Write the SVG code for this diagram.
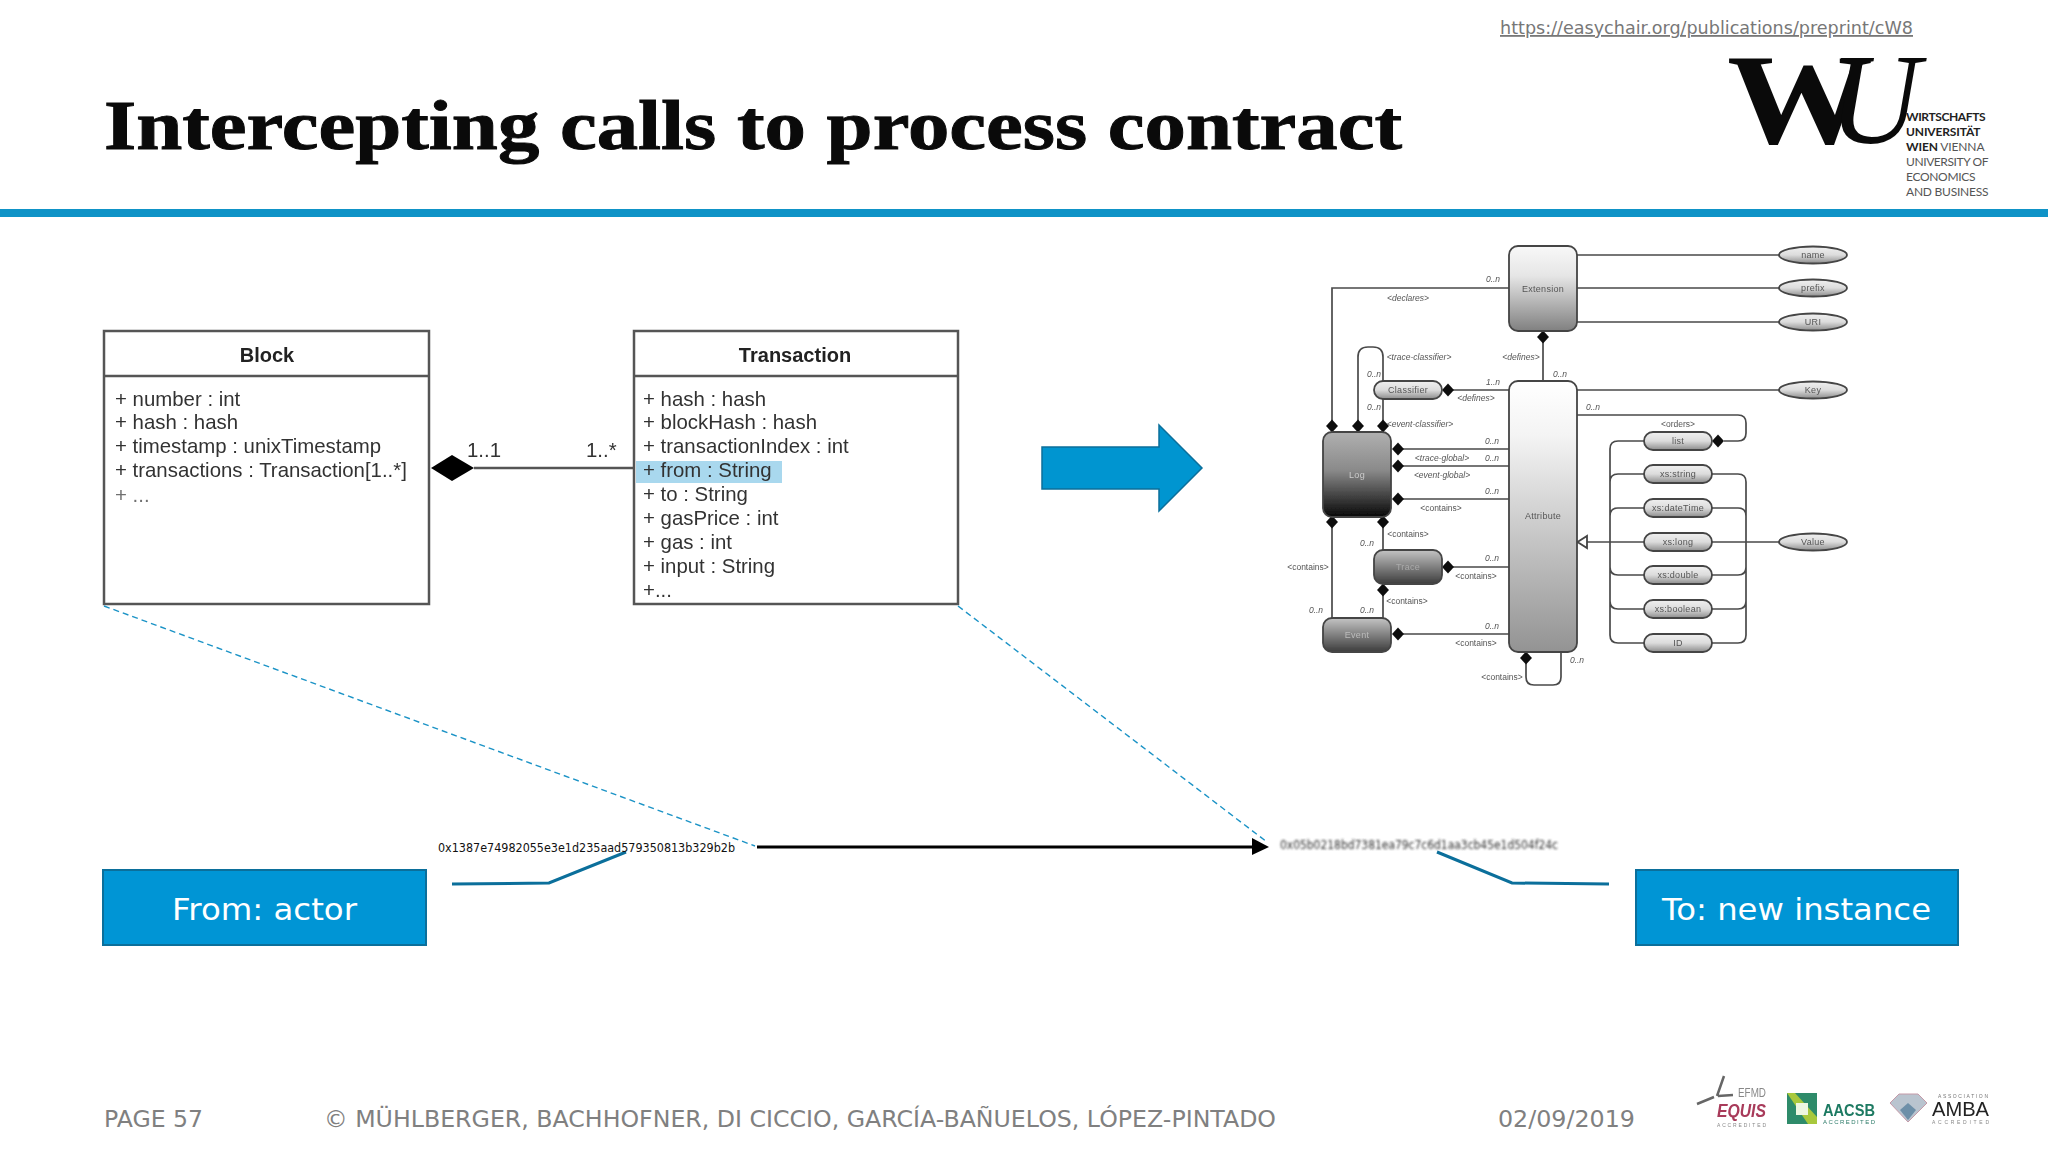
<svg xmlns="http://www.w3.org/2000/svg" width="2048" height="1152" viewBox="0 0 2048 1152">
<style>
.ui{font-family:"Liberation Sans",Arial,sans-serif;font-size:20.4px;fill:#333}
.ub{font-family:"Liberation Sans",Arial,sans-serif;font-size:20px;font-weight:bold;fill:#222;text-anchor:middle}
.ubox{fill:#fff;stroke:#555;stroke-width:2.5}
.ulin{fill:none;stroke:#555;stroke-width:2.5}
.v{font-family:"DejaVu Sans",Verdana,sans-serif}
.foot{font-family:"DejaVu Sans",Verdana,sans-serif;font-size:23px;fill:#808080}
.cb{fill:#0095d5;stroke:#0b6f9b;stroke-width:2}
.cbt{font-family:"DejaVu Sans",Verdana,sans-serif;font-size:30px;fill:#fff}
.call{fill:none;stroke:#0b6f9b;stroke-width:3}
.dash{fill:none;stroke:#1b93c6;stroke-width:1.4;stroke-dasharray:6 4}
.n{stroke:#444;stroke-width:1.8}
.l{fill:none;stroke:#4a4a4a;stroke-width:1.7}
.t{font-family:"Liberation Sans",Arial,sans-serif;font-size:8.5px;fill:#555;text-anchor:middle}
.i{font-style:italic}
.nt{font-family:"Liberation Sans",Arial,sans-serif;font-size:9px;letter-spacing:.3px;fill:#555;text-anchor:middle}
.lg{font-family:"Lato","Liberation Sans",sans-serif;font-size:12px;fill:#555;letter-spacing:.5px}
.lgb{font-weight:bold;fill:#222}
</style>
<defs>
<linearGradient id="gExt" x1="0" y1="0" x2="0" y2="1"><stop offset="0" stop-color="#f8f8f8"/><stop offset=".35" stop-color="#e6e6e6"/><stop offset="1" stop-color="#808080"/></linearGradient>
<linearGradient id="gAttr" x1="0" y1="0" x2="0" y2="1"><stop offset="0" stop-color="#ffffff"/><stop offset=".2" stop-color="#f4f4f4"/><stop offset="1" stop-color="#939393"/></linearGradient>
<linearGradient id="gDark" x1="0" y1="0" x2="0" y2="1"><stop offset="0" stop-color="#b0b0b0"/><stop offset=".45" stop-color="#8a8a8a"/><stop offset="1" stop-color="#080808"/></linearGradient>
<linearGradient id="gMid" x1="0" y1="0" x2="0" y2="1"><stop offset="0" stop-color="#c4c4c4"/><stop offset="1" stop-color="#3c3c3c"/></linearGradient>
<linearGradient id="gPill" x1="0" y1="0" x2="0" y2="1"><stop offset="0" stop-color="#f0f0f0"/><stop offset=".5" stop-color="#dcdcdc"/><stop offset="1" stop-color="#8c8c8c"/></linearGradient>
<filter id="b1" x="-5%" y="-5%" width="110%" height="110%"><feGaussianBlur stdDeviation="0.55"/></filter>
<filter id="b3" x="-5%" y="-5%" width="110%" height="110%"><feGaussianBlur stdDeviation="0.7"/></filter>
<filter id="b2" x="-5%" y="-20%" width="110%" height="140%"><feGaussianBlur stdDeviation="0.9"/></filter>
<path id="dia" d="M-6 0L0-6.500 6 0 0 6.500Z" fill="#111"/>
</defs>
<rect width="2048" height="1152" fill="#fff"/>

<g id="header">
<text x="104" y="149" font-family="'Liberation Serif','Times New Roman',serif" font-weight="bold" font-size="70" fill="#0a0a0a" stroke="#0a0a0a" stroke-width="0.9" textLength="1298" lengthAdjust="spacingAndGlyphs">Intercepting calls to process contract</text>
<text x="1500" y="34" class="v" font-size="18" fill="#777" text-decoration="underline" textLength="413" lengthAdjust="spacingAndGlyphs">https://easychair.org/publications/preprint/cW8</text>
<rect x="0" y="209" width="2048" height="8" fill="#0f93c7"/>
</g>

<g id="wu-logo">
<text x="1727" y="143" font-family="'Liberation Serif',serif" font-weight="bold" font-size="130" fill="#0a0a0a" textLength="146" lengthAdjust="spacingAndGlyphs">W</text>
<text x="1829" y="143" font-family="'Liberation Serif',serif" font-style="italic" font-size="130" fill="#0a0a0a" textLength="91" lengthAdjust="spacingAndGlyphs">U</text>
<text class="lg lgb" x="1906" y="121" textLength="80">WIRTSCHAFTS</text>
<text class="lg lgb" x="1906" y="136" textLength="75">UNIVERSITÄT</text>
<text class="lg" x="1906" y="151" textLength="79"><tspan class="lgb">WIEN</tspan> VIENNA</text>
<text class="lg" x="1906" y="166" textLength="83">UNIVERSITY OF</text>
<text class="lg" x="1906" y="181" textLength="70">ECONOMICS</text>
<text class="lg" x="1906" y="196" textLength="83">AND BUSINESS</text>
</g>

<g id="uml-connectors" filter="url(#b1)">
<path class="ulin" d="M474 468H634"/>
<path d="M431 468L452 455 474 468 452 481Z" fill="#000"/>
<text class="ui" x="467" y="457">1..1</text>
<text class="ui" x="586" y="457">1..*</text>
</g>

<g id="block" filter="url(#b1)">
<rect class="ubox" x="104" y="331" width="325" height="273"/>
<path class="ulin" d="M104 376H429"/>
<text class="ub" x="267" y="362">Block</text>
<text class="ui" x="115" y="406">+ number : int</text>
<text class="ui" x="115" y="429">+ hash : hash</text>
<text class="ui" x="115" y="453">+ timestamp : unixTimestamp</text>
<text class="ui" x="115" y="477">+ transactions : Transaction[1..*]</text>
<text class="ui" x="115" y="502" fill-opacity=".7">+ ...</text>
</g>

<g id="transaction" filter="url(#b1)">
<rect class="ubox" x="634" y="331" width="324" height="273"/>
<path class="ulin" d="M634 376H958"/>
<rect x="636" y="461" width="146" height="22" fill="#a9d8ee"/>
<text class="ub" x="795" y="362">Transaction</text>
<text class="ui" x="643" y="406">+ hash : hash</text>
<text class="ui" x="643" y="429">+ blockHash : hash</text>
<text class="ui" x="643" y="453">+ transactionIndex : int</text>
<text class="ui" x="643" y="477">+ from : String</text>
<text class="ui" x="643" y="501">+ to : String</text>
<text class="ui" x="643" y="525">+ gasPrice : int</text>
<text class="ui" x="643" y="549">+ gas : int</text>
<text class="ui" x="643" y="573">+ input : String</text>
<text class="ui" x="643" y="597">+...</text>
</g>

<g id="big-arrow">
<path d="M1042 447H1159V425L1202 468 1159 511V489H1042Z" fill="#0095d0" stroke="#0b6f9b" stroke-width="1.500"/>
</g>

<g id="xes-connectors" filter="url(#b3)">
<path class="l" d="M1577 255H1779M1577 288H1779M1577 322H1779M1577 390H1779M1712 542H1779"/>
<path class="l" d="M1509 288H1332V432"/>
<path class="l" d="M1358 432V357Q1358 347 1368 347H1373Q1383 347 1383 357V381M1383 399V432"/>
<path class="l" d="M1448 390H1509M1398 449H1509M1398 466H1509M1398 499H1509M1448 567H1509M1398 634H1509"/>
<path class="l" d="M1543 331V381"/>
<path class="l" d="M1332 517V618M1383 517V550M1383 584V618"/>
<path class="l" d="M1526 652V677Q1526 685 1534 685H1553Q1561 685 1561 677V652"/>
<path class="l" d="M1577 415H1738Q1746 415 1746 423V433Q1746 441 1738 441H1724"/>
<path class="l" d="M1644 441H1618Q1610 441 1610 449V635Q1610 643 1618 643H1644M1644 474H1618Q1610 474 1610 482M1644 508H1618Q1610 508 1610 516M1644 575H1618Q1610 575 1610 567M1644 609H1618Q1610 609 1610 601"/>
<path class="l" d="M1712 474H1738Q1746 474 1746 482V635Q1746 643 1738 643H1712M1712 508H1738Q1746 508 1746 516M1712 575H1738Q1746 575 1746 567M1712 609H1738Q1746 609 1746 601"/>
<path class="l" d="M1586 542H1644"/>
<path d="M1577.500 542L1587 536V548Z" fill="#fff" stroke="#444" stroke-width="1.800"/>
<use href="#dia" x="1332" y="426"/><use href="#dia" x="1358" y="426"/><use href="#dia" x="1383" y="426"/>
<use href="#dia" x="1543" y="337"/><use href="#dia" x="1448" y="390"/>
<use href="#dia" x="1398" y="449"/><use href="#dia" x="1398" y="466"/><use href="#dia" x="1398" y="499"/>
<use href="#dia" x="1332" y="522"/><use href="#dia" x="1383" y="522"/><use href="#dia" x="1383" y="590"/>
<use href="#dia" x="1448" y="567"/><use href="#dia" x="1398" y="634"/>
<use href="#dia" x="1526" y="658"/><use href="#dia" x="1718" y="441"/>
<text class="t i" x="1493" y="282">0..n</text>
<text class="t i" x="1408" y="301">&lt;declares&gt;</text>
<text class="t i" x="1521" y="360">&lt;defines&gt;</text>
<text class="t i" x="1419" y="360">&lt;trace-classifier&gt;</text>
<text class="t i" x="1374" y="377">0..n</text>
<text class="t i" x="1560" y="377">0..n</text>
<text class="t i" x="1493" y="385">1..n</text>
<text class="t i" x="1476" y="401">&lt;defines&gt;</text>
<text class="t i" x="1374" y="410">0..n</text>
<text class="t i" x="1593" y="410">0..n</text>
<text class="t i" x="1420" y="427">&lt;event-classifier&gt;</text>
<text class="t" x="1678" y="427">&lt;orders&gt;</text>
<text class="t i" x="1492" y="444">0..n</text>
<text class="t i" x="1442" y="461">&lt;trace-global&gt;</text>
<text class="t i" x="1492" y="461">0..n</text>
<text class="t i" x="1442" y="478">&lt;event-global&gt;</text>
<text class="t i" x="1492" y="494">0..n</text>
<text class="t" x="1441" y="511">&lt;contains&gt;</text>
<text class="t" x="1408" y="537">&lt;contains&gt;</text>
<text class="t i" x="1367" y="546">0..n</text>
<text class="t i" x="1492" y="561">0..n</text>
<text class="t" x="1308" y="570">&lt;contains&gt;</text>
<text class="t" x="1476" y="579">&lt;contains&gt;</text>
<text class="t" x="1407" y="604">&lt;contains&gt;</text>
<text class="t i" x="1316" y="613">0..n</text>
<text class="t i" x="1367" y="613">0..n</text>
<text class="t i" x="1492" y="629">0..n</text>
<text class="t" x="1476" y="646">&lt;contains&gt;</text>
<text class="t i" x="1577" y="663">0..n</text>
<text class="t" x="1502" y="680">&lt;contains&gt;</text>
</g>

<g id="extension" filter="url(#b3)"><rect class="n" x="1509" y="246" width="68" height="85" rx="9" fill="url(#gExt)"/><text class="nt" x="1543" y="292">Extension</text></g>
<g id="attribute" filter="url(#b3)"><rect class="n" x="1509" y="381" width="68" height="271" rx="9" fill="url(#gAttr)"/><text class="nt" x="1543" y="519">Attribute</text></g>
<g id="log" filter="url(#b3)"><rect class="n" x="1323" y="432" width="68" height="85" rx="9" fill="url(#gDark)"/><text class="nt" x="1357" y="478" style="fill:#ccc">Log</text></g>
<g id="classifier" filter="url(#b3)"><rect class="n" x="1374" y="381" width="68" height="18" rx="9" fill="url(#gPill)"/><text class="nt" x="1408" y="393">Classifier</text></g>
<g id="trace" filter="url(#b3)"><rect class="n" x="1374" y="550" width="68" height="34" rx="9" fill="url(#gMid)"/><text class="nt" x="1408" y="570" style="fill:#aaa">Trace</text></g>
<g id="event" filter="url(#b3)"><rect class="n" x="1323" y="618" width="68" height="34" rx="9" fill="url(#gMid)"/><text class="nt" x="1357" y="638" style="fill:#bbb">Event</text></g>

<g id="oval-name" filter="url(#b3)"><ellipse class="n" cx="1813" cy="255" rx="34" ry="8.500" fill="url(#gPill)"/><text class="nt" x="1813" y="258">name</text></g>
<g id="oval-prefix" filter="url(#b3)"><ellipse class="n" cx="1813" cy="288" rx="34" ry="8.500" fill="url(#gPill)"/><text class="nt" x="1813" y="291">prefix</text></g>
<g id="oval-uri" filter="url(#b3)"><ellipse class="n" cx="1813" cy="322" rx="34" ry="8.500" fill="url(#gPill)"/><text class="nt" x="1813" y="325">URI</text></g>
<g id="oval-key" filter="url(#b3)"><ellipse class="n" cx="1813" cy="390" rx="34" ry="8.500" fill="url(#gPill)"/><text class="nt" x="1813" y="393">Key</text></g>
<g id="oval-value" filter="url(#b3)"><ellipse class="n" cx="1813" cy="542" rx="34" ry="8.500" fill="url(#gPill)"/><text class="nt" x="1813" y="545">Value</text></g>

<g id="pill-list" filter="url(#b3)"><rect class="n" x="1644" y="432" width="68" height="18" rx="9" fill="url(#gPill)"/><text class="nt" x="1678" y="444">list</text></g>
<g id="pill-string" filter="url(#b3)"><rect class="n" x="1644" y="465" width="68" height="18" rx="9" fill="url(#gPill)"/><text class="nt" x="1678" y="477">xs:string</text></g>
<g id="pill-datetime" filter="url(#b3)"><rect class="n" x="1644" y="499" width="68" height="18" rx="9" fill="url(#gPill)"/><text class="nt" x="1678" y="511">xs:dateTime</text></g>
<g id="pill-long" filter="url(#b3)"><rect class="n" x="1644" y="533" width="68" height="18" rx="9" fill="url(#gPill)"/><text class="nt" x="1678" y="545">xs:long</text></g>
<g id="pill-double" filter="url(#b3)"><rect class="n" x="1644" y="566" width="68" height="18" rx="9" fill="url(#gPill)"/><text class="nt" x="1678" y="578">xs:double</text></g>
<g id="pill-boolean" filter="url(#b3)"><rect class="n" x="1644" y="600" width="68" height="18" rx="9" fill="url(#gPill)"/><text class="nt" x="1678" y="612">xs:boolean</text></g>
<g id="pill-id" filter="url(#b3)"><rect class="n" x="1644" y="634" width="68" height="18" rx="9" fill="url(#gPill)"/><text class="nt" x="1678" y="646">ID</text></g>

<g id="connectors">
<path class="dash" d="M104 606L755 846"/>
<path class="dash" d="M958 606L1267 842"/>
<path d="M757 847H1254" fill="none" stroke="#000" stroke-width="3"/>
<path d="M1252 838L1269 847 1252 855Z" fill="#000"/>
<path class="call" d="M452 884L549 883 626 852"/>
<path class="call" d="M1437 852L1512 883 1609 884"/>
</g>

<g id="from-hash"><text x="438" y="852" font-family="'DejaVu Sans',sans-serif" font-size="11.500" fill="#111" textLength="297" lengthAdjust="spacingAndGlyphs">0x1387e74982055e3e1d235aad579350813b329b2b</text></g>
<g id="to-hash" filter="url(#b2)"><text x="1280" y="849" font-family="'DejaVu Sans',sans-serif" font-size="11.500" fill="#333" textLength="278" lengthAdjust="spacingAndGlyphs">0x05b0218bd7381ea79c7c6d1aa3cb45e1d504f24c</text></g>

<g id="from-box"><rect class="cb" x="103" y="870" width="323" height="75"/><text class="cbt" x="172" y="920" textLength="185" lengthAdjust="spacingAndGlyphs">From: actor</text></g>
<g id="to-box"><rect class="cb" x="1636" y="870" width="322" height="75"/><text class="cbt" x="1662" y="920" textLength="269" lengthAdjust="spacingAndGlyphs">To: new instance</text></g>

<g id="footer">
<text class="foot" x="104" y="1127" textLength="99" lengthAdjust="spacingAndGlyphs">PAGE 57</text>
<text class="foot" x="324" y="1127" textLength="952" lengthAdjust="spacingAndGlyphs">© MÜHLBERGER, BACHHOFNER, DI CICCIO, GARCÍA-BAÑUELOS, LÓPEZ-PINTADO</text>
<text class="foot" x="1498" y="1127" textLength="137" lengthAdjust="spacingAndGlyphs">02/09/2019</text>
</g>

<g id="accreditation-logos" filter="url(#b3)">
<path d="M1697 1104L1714 1097M1717 1096L1724 1076M1718 1096L1733 1095" fill="none" stroke="#666" stroke-width="2.500"/>
<text x="1738" y="1097" font-family="'Liberation Sans',sans-serif" font-size="12" fill="#888" textLength="28" lengthAdjust="spacingAndGlyphs">EFMD</text>
<text x="1717" y="1117" font-family="'Liberation Sans',sans-serif" font-weight="bold" font-style="italic" font-size="18" fill="#a83a5a" textLength="49" lengthAdjust="spacingAndGlyphs">EQUIS</text>
<text x="1717" y="1127" font-family="'Liberation Sans',sans-serif" font-size="5" fill="#888" textLength="49">ACCREDITED</text>
<rect x="1787" y="1093" width="30" height="31" fill="#2e8b6a"/>
<path d="M1787 1093H1795L1817 1117V1124H1808Z" fill="#a8c83c"/>
<rect x="1796" y="1103" width="12" height="12" fill="#eef6e0"/>
<text x="1823" y="1116" font-family="'Liberation Sans',sans-serif" font-weight="bold" font-size="17" fill="#1f7a62" textLength="52" lengthAdjust="spacingAndGlyphs">AACSB</text>
<text x="1823" y="1124" font-family="'Liberation Sans',sans-serif" font-size="6" fill="#2c7a68" textLength="52">ACCREDITED</text>
<path d="M1890 1103L1899 1094H1918L1927 1103 1908 1122Z" fill="#b9c4cf" stroke="#c59aa8"/>
<path d="M1900 1110L1908 1103 1916 1110 1908 1120Z" fill="#6d8fa8"/>
<text x="1932" y="1116" font-family="'Liberation Sans',sans-serif" font-size="21" fill="#222" textLength="57" lengthAdjust="spacingAndGlyphs">AMBA</text>
<text x="1938" y="1098" font-family="'Liberation Sans',sans-serif" font-size="5" fill="#777" textLength="50">ASSOCIATION</text>
<text x="1932" y="1124" font-family="'Liberation Sans',sans-serif" font-size="5" fill="#888" textLength="57">ACCREDITED</text>
</g>
</svg>
